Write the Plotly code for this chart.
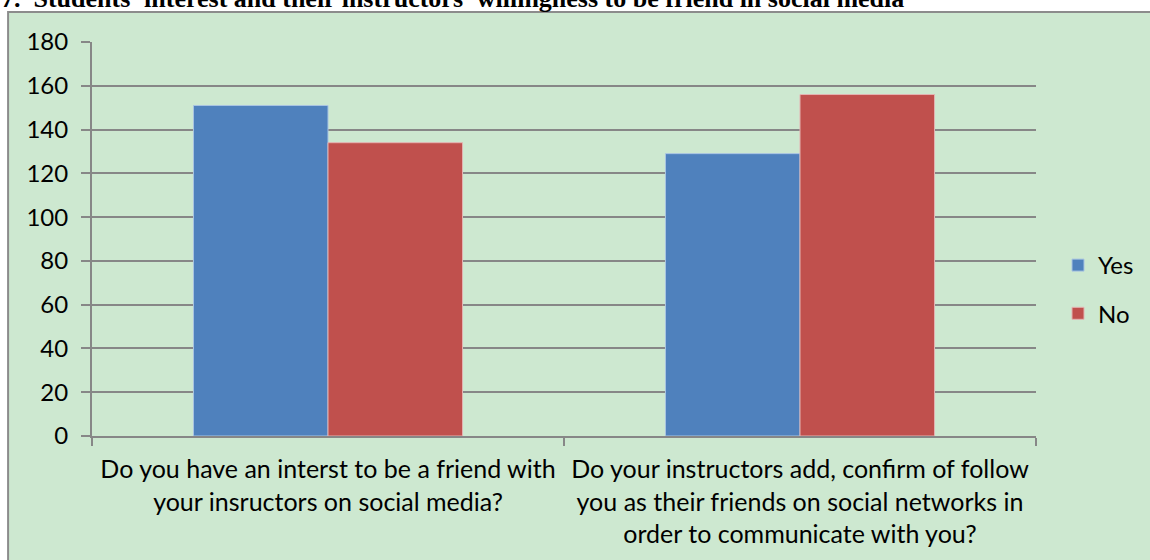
import plotly.graph_objects as go

# Survey answers per question
questions = [
    "Do you have an interst to be a friend with<br>your insructors on social media?",
    "Do your instructors add, confirm of follow<br>you as their friends on social networks in<br>order to communicate with you?",
]
yes_counts = [151, 129]
no_counts = [134, 156]
y_ticks = [0, 20, 40, 60, 80, 100, 120, 140, 160, 180]
title_text = "7.  Students' interest and their instructors' willingness to be friend in social media"

W, H = 1150, 560
ML, MR, MT, MB = 92, 113, 42, 124
PW, PH = W - ML - MR, H - MT - MB


def px_x(p):
    return (p - ML) / PW


def px_y(p):
    return (H - MB - p) / PH


FONT = "Lato, 'Open Sans', sans-serif"
GRID = "#878787"

fig = go.Figure()
fig.add_trace(go.Bar(
    name="Yes", x=questions, y=yes_counts, legendgroup="yes",
    marker=dict(color="#4F81BD", line=dict(color="#A9C4E2", width=1)),
))
fig.add_trace(go.Bar(
    name="No", x=questions, y=no_counts, legendgroup="no",
    marker=dict(color="#C0504D", line=dict(color="#E4B3B2", width=1)),
))

# green chart frame, extending past the right and bottom edges
fig.add_shape(
    type="rect", xref="paper", yref="paper", layer="below",
    x0=px_x(8), x1=px_x(W + 40), y0=px_y(H + 40), y1=px_y(12),
    fillcolor="#CDE8D0", line=dict(color="#8C8C8C", width=2),
)

fig.add_annotation(
    text="<b>" + title_text + "</b>", xref="paper", yref="paper",
    x=px_x(-1), y=px_y(-1), xanchor="left", yanchor="middle", showarrow=False,
    font=dict(family="'Liberation Serif', 'Times New Roman', serif", size=26, color="#000"),
)

fig.update_layout(
    width=W, height=H,
    margin=dict(l=ML, r=MR, t=MT, b=MB, pad=0),
    paper_bgcolor="white", plot_bgcolor="rgba(0,0,0,0)",
    barmode="group", bargap=0.43, bargroupgap=0.0,
    font=dict(family=FONT, size=24, color="#000"),
    showlegend=True,
    legend=dict(
        x=px_x(1058), xanchor="left", y=px_y(289.5), yanchor="middle",
        traceorder="grouped", tracegroupgap=14,
        bgcolor="rgba(0,0,0,0)", font=dict(family=FONT, size=24, color="#000"),
    ),
)
fig.update_xaxes(
    type="category", tickson="boundaries", ticks="outside", ticklen=8,
    tickcolor=GRID, tickwidth=2, showline=True, linecolor=GRID, linewidth=2,
    showgrid=False, tickfont=dict(family=FONT, size=25), ticklabelstandoff=10,
)
fig.update_yaxes(
    range=[0, 180], tickvals=y_ticks, ticks="outside", ticklen=9,
    tickcolor=GRID, tickwidth=2, showline=True, linecolor=GRID, linewidth=2,
    showgrid=True, gridcolor=GRID, gridwidth=2, zeroline=False,
    tickfont=dict(family=FONT, size=24), ticklabelstandoff=8,
)

fig.write_html("out.html")
